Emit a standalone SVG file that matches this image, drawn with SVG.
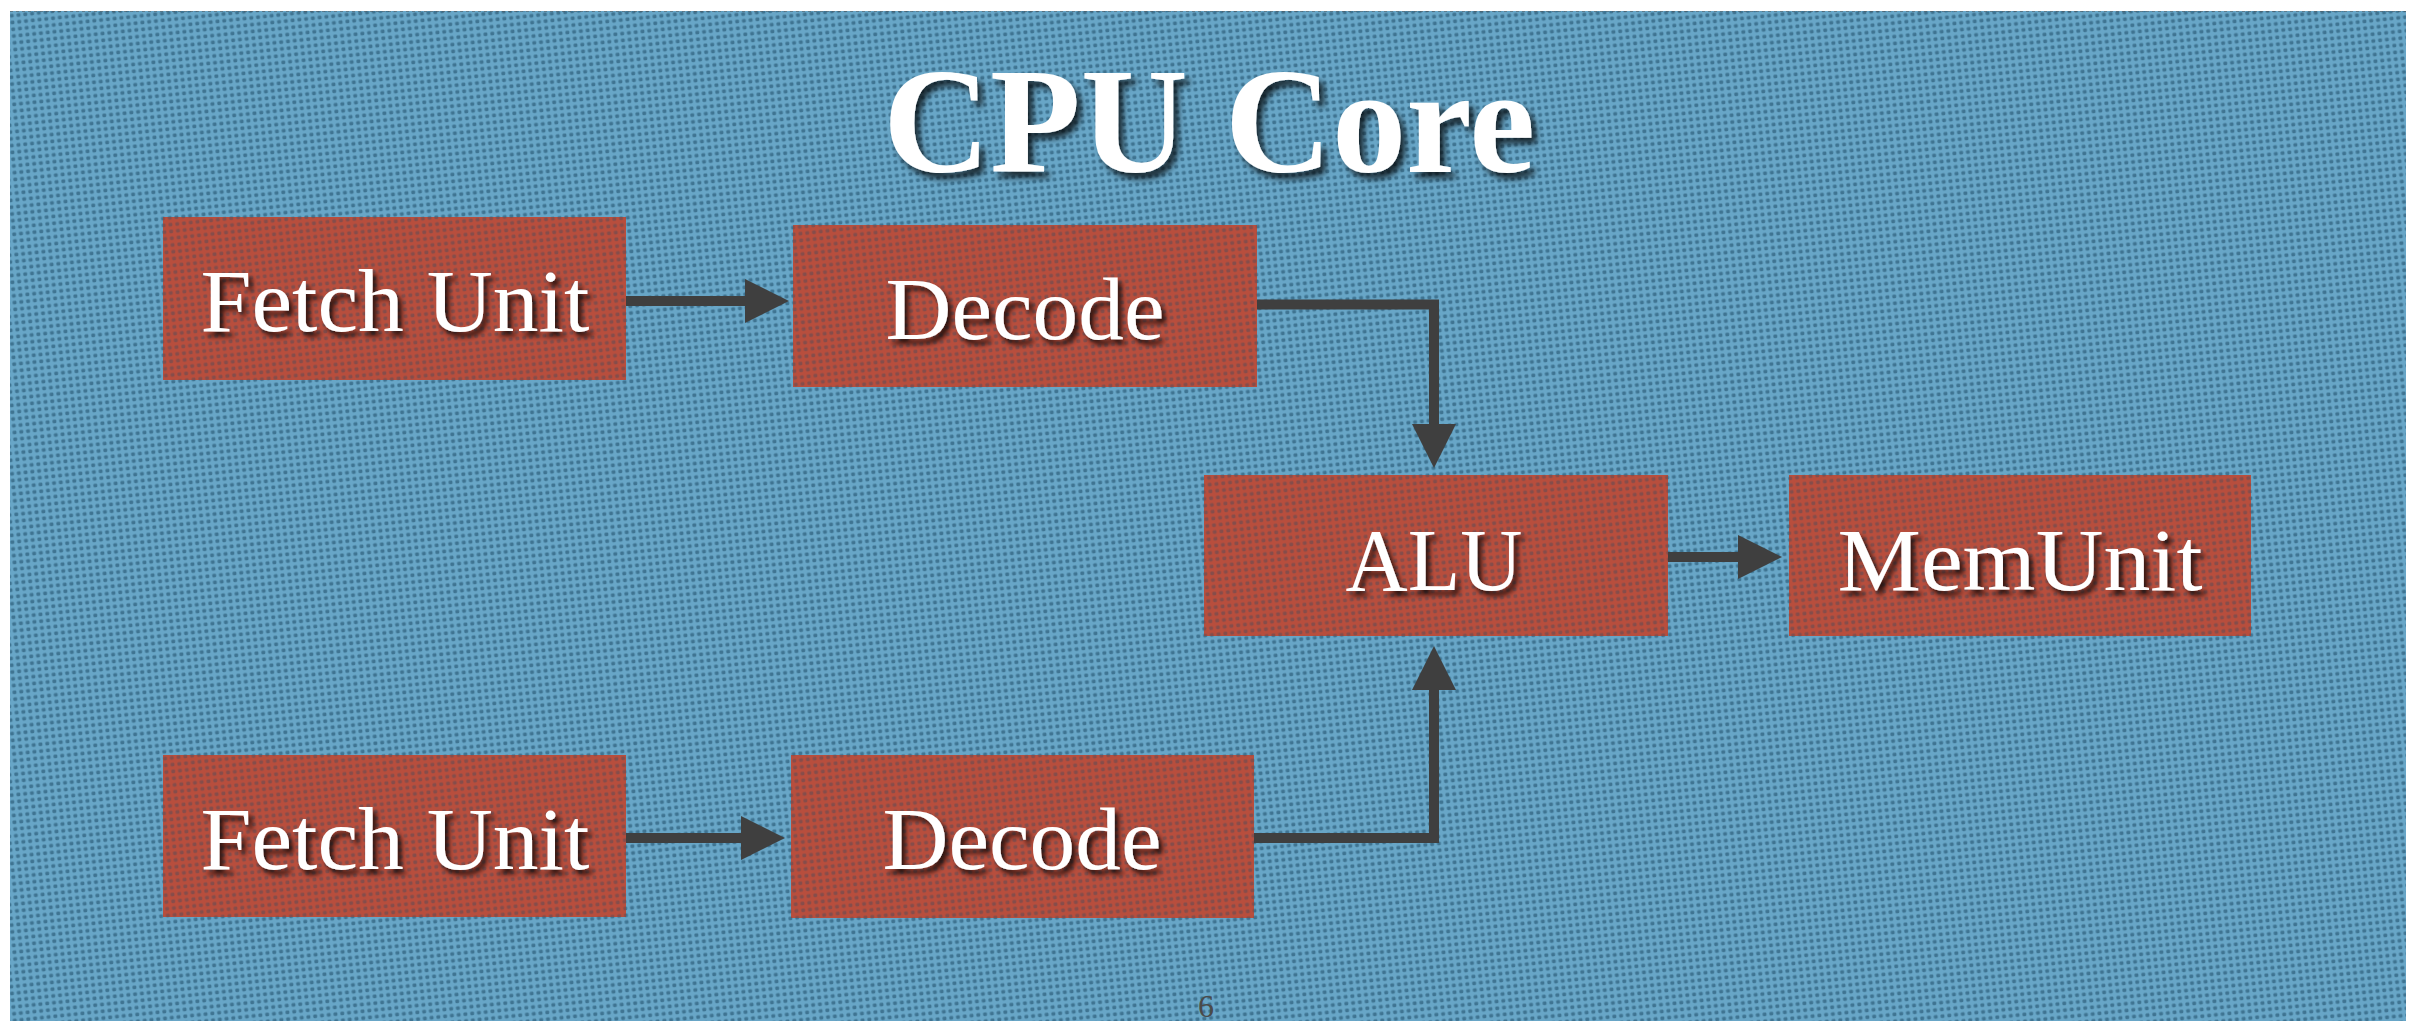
<svg xmlns="http://www.w3.org/2000/svg" width="2415" height="1021" viewBox="0 0 2415 1021">
  <defs>
    <style>
      .box { fill: #b84e3d; }
      .weave { fill: url(#weave); }
      .label { font-family: "Liberation Serif", "Times New Roman", serif; font-size: 88px; fill: #ffffff; text-anchor: middle; filter: url(#textShadow); }
      .title { font-family: "Liberation Serif", "Times New Roman", serif; font-size: 151px; font-weight: bold; fill: #ffffff; text-anchor: middle; filter: url(#titleShadow); }
      .wire { fill: none; stroke: #3f3f3f; stroke-width: 10; marker-end: url(#head); }
      .pageno { font-family: "Liberation Serif", "Times New Roman", serif; font-size: 32px; fill: #4a4a4a; text-anchor: middle; }
    </style>
    <!-- woven cloth texture, shared by the slide background and the boxes -->
    <pattern id="weave" width="6.8" height="6.8" patternUnits="userSpaceOnUse" patternTransform="rotate(-6)">
      <rect x="1.3" y="1.5" width="3.9" height="3.5" rx="1.1" fill="#1d4a66" opacity="0.55"/>
    </pattern>
    <marker id="head" viewBox="0 0 44 44" markerWidth="44" markerHeight="44" markerUnits="userSpaceOnUse" refX="1" refY="22" orient="auto">
      <path d="M0,0 L44,22 L0,44 z" fill="#3f3f3f"/>
    </marker>
    <filter id="textShadow" x="-10%" y="-20%" width="130%" height="160%">
      <feDropShadow dx="4" dy="5" stdDeviation="2.5" flood-color="#000000" flood-opacity="0.75"/>
    </filter>
    <filter id="titleShadow" x="-10%" y="-20%" width="130%" height="160%">
      <feDropShadow dx="5" dy="6" stdDeviation="3" flood-color="#000000" flood-opacity="0.75"/>
    </filter>
  </defs>

  <!-- page and slide background -->
  <rect x="0" y="0" width="2415" height="1021" fill="#ffffff"/>
  <rect x="10" y="11" width="2396" height="1010" fill="#68a6c7"/>
  <rect x="10" y="11" width="2396" height="1010" class="weave"/>
  <line x1="10" y1="11.5" x2="2406" y2="11.5" stroke="#555" stroke-width="1" stroke-dasharray="3 3" opacity="0.5"/>

  <text class="title" x="1209" y="172" textLength="652" lengthAdjust="spacingAndGlyphs">CPU Core</text>

  <g id="connectors">
    <path class="wire" d="M626,301 H746"/>
    <path class="wire" d="M1256,304.5 H1434 V425"/>
    <path class="wire" d="M1254,838 H1434 V689"/>
    <path class="wire" d="M626,838 H742"/>
    <path class="wire" d="M1668,557 H1739"/>
  </g>

  <g id="fetch1">
    <rect class="box" x="163" y="217" width="463" height="163"/>
    <rect class="weave" x="163" y="217" width="463" height="163" opacity="0.6"/>
    <text class="label" x="395" y="331" textLength="389" lengthAdjust="spacingAndGlyphs">Fetch Unit</text>
  </g>

  <g id="decode1">
    <rect class="box" x="793" y="225" width="464" height="162"/>
    <rect class="weave" x="793" y="225" width="464" height="162" opacity="0.6"/>
    <text class="label" x="1025" y="339" textLength="279" lengthAdjust="spacingAndGlyphs">Decode</text>
  </g>

  <g id="alu">
    <rect class="box" x="1204" y="475" width="464" height="161"/>
    <rect class="weave" x="1204" y="475" width="464" height="161" opacity="0.6"/>
    <text class="label" x="1434" y="590" textLength="177" lengthAdjust="spacingAndGlyphs">ALU</text>
  </g>

  <g id="memunit">
    <rect class="box" x="1789" y="475" width="462" height="161"/>
    <rect class="weave" x="1789" y="475" width="462" height="161" opacity="0.6"/>
    <text class="label" x="2020" y="590" textLength="365" lengthAdjust="spacingAndGlyphs">MemUnit</text>
  </g>

  <g id="fetch2">
    <rect class="box" x="163" y="755" width="463" height="162"/>
    <rect class="weave" x="163" y="755" width="463" height="162" opacity="0.6"/>
    <text class="label" x="395" y="869" textLength="389" lengthAdjust="spacingAndGlyphs">Fetch Unit</text>
  </g>

  <g id="decode2">
    <rect class="box" x="791" y="755" width="463" height="163"/>
    <rect class="weave" x="791" y="755" width="463" height="163" opacity="0.6"/>
    <text class="label" x="1022" y="869" textLength="279" lengthAdjust="spacingAndGlyphs">Decode</text>
  </g>

  <text class="pageno" x="1206" y="1017">6</text>
</svg>
